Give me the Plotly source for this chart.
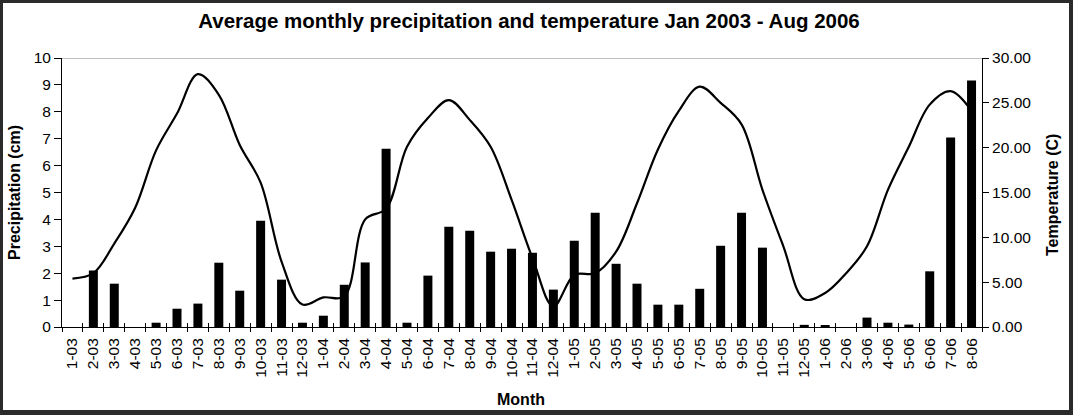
import plotly.graph_objects as go

months = ["1-03", "2-03", "3-03", "4-03", "5-03", "6-03", "7-03", "8-03", "9-03", "10-03", "11-03", "12-03",
          "1-04", "2-04", "3-04", "4-04", "5-04", "6-04", "7-04", "8-04", "9-04", "10-04", "11-04", "12-04",
          "1-05", "2-05", "3-05", "4-05", "5-05", "6-05", "7-05", "8-05", "9-05", "10-05", "11-05", "12-05",
          "1-06", "2-06", "3-06", "4-06", "5-06", "6-06", "7-06", "8-06"]

precip_cm = [0, 2.1, 1.61, 0, 0.16, 0.68, 0.87, 2.39, 1.35, 3.95, 1.76, 0.16,
             0.42, 1.57, 2.4, 6.63, 0.16, 1.91, 3.73, 3.58, 2.80, 2.91, 2.76, 1.39,
             3.21, 4.25, 2.35, 1.61, 0.83, 0.83, 1.42, 3.02, 4.25, 2.95, 0, 0.08,
             0.05, 0, 0.35, 0.16, 0.09, 2.07, 7.04, 9.16]

temp_c = [5.4, 6.0, 9.3, 13.3, 19.7, 23.8, 28.2, 25.9, 20.3, 16.1, 7.3, 2.5,
          3.3, 3.4, 12.0, 13.2, 20.1, 23.3, 25.3, 23.1, 20.1, 14.2, 7.7, 2.3,
          5.8, 6.0, 8.4, 13.8, 19.8, 24.1, 26.8, 25.0, 22.6, 15.3, 9.0, 3.1,
          3.8, 6.0, 9.0, 15.3, 20.1, 24.8, 26.3, 24.1]

FONT = "Arial, Liberation Sans, sans-serif"
W, H = 1073, 415
L, R, T, B = 62, 982, 58, 327
TICK_SIZE = 15.5
AXT_SIZE = 16

def px_x(X):
    return (X - L) / (R - L)

def px_y(Y):
    return (B - Y) / (B - T)

fig = go.Figure()
fig.add_trace(go.Bar(x=months, y=precip_cm, marker=dict(color="black", line=dict(width=0)),
                     name="Precipitation", xaxis="x", yaxis="y"))
fig.add_trace(go.Scatter(x=months, y=temp_c, mode="lines",
                         line=dict(color="black", width=2.2, shape="spline", smoothing=1.0),
                         name="Temperature", xaxis="x2", yaxis="y2"))

fig.update_layout(
    width=W, height=H,
    margin=dict(l=L, r=W - R, t=T, b=H - B),
    paper_bgcolor="#2b2b2b",
    plot_bgcolor="rgba(0,0,0,0)",
    showlegend=False,
    bargap=0.57,
    font=dict(family=FONT, size=TICK_SIZE, color="black"),
    title=dict(text="<b>Average monthly precipitation and temperature Jan 2003 - Aug 2006</b>",
               font=dict(family=FONT, size=20.5, color="black"),
               x=529 / W, xref="container", xanchor="center",
               y=1 - 21 / H, yref="container", yanchor="middle"),
    xaxis=dict(type="category", categoryorder="array", categoryarray=months,
               range=[-0.5, len(months) - 0.5],
               tickson="boundaries", ticks="outside", ticklen=4, tickcolor="black", tickwidth=1,
               tickangle=-90, showline=True, linecolor="black", linewidth=1,
               showgrid=False, zeroline=False, ticklabelstandoff=4,
               tickfont=dict(family=FONT, size=TICK_SIZE, color="black")),
    xaxis2=dict(type="category", categoryorder="array", categoryarray=months,
                range=[-0.5, len(months) - 0.5], overlaying="x", anchor="y",
                tickson="boundaries", ticks="inside", ticklen=4, tickcolor="black", tickwidth=1,
                showticklabels=False, showline=False, showgrid=False, zeroline=False),
    yaxis=dict(range=[0, 10], dtick=1, ticks="outside", ticklen=7, tickcolor="black",
               showline=True, linecolor="black", linewidth=1, showgrid=False, zeroline=False,
               tickfont=dict(family=FONT, size=TICK_SIZE, color="black")),
    yaxis2=dict(range=[0, 30], dtick=5, tickformat=".2f", side="right", overlaying="y",
                anchor="x", ticks="outside", ticklen=6, tickcolor="black",
                showline=True, linecolor="black", linewidth=1, showgrid=False, zeroline=False,
                tickfont=dict(family=FONT, size=TICK_SIZE, color="black")),
    shapes=[
        dict(type="rect", xref="paper", yref="paper", layer="below",
             x0=px_x(3), x1=px_x(1069), y0=px_y(410), y1=px_y(3),
             fillcolor="white", line=dict(width=0)),
        dict(type="line", xref="paper", yref="y", x0=0, x1=1, y0=10, y1=10,
             line=dict(color="#808080", width=1)),
    ],
    annotations=[
        dict(text="<b>Month</b>", xref="paper", yref="paper", x=px_x(521), y=px_y(400),
             showarrow=False, xanchor="center", yanchor="middle",
             font=dict(family=FONT, size=AXT_SIZE, color="black")),
        dict(text="<b>Precipitation (cm)</b>", xref="paper", yref="paper", x=px_x(14), y=px_y(193),
             showarrow=False, xanchor="center", yanchor="middle", textangle=-90,
             font=dict(family=FONT, size=AXT_SIZE, color="black")),
        dict(text="<b>Temperature (C)</b>", xref="paper", yref="paper", x=px_x(1052), y=px_y(195),
             showarrow=False, xanchor="center", yanchor="middle", textangle=-90,
             font=dict(family=FONT, size=AXT_SIZE, color="black")),
    ],
)

fig.write_html("out.html",
               config={"displayModeBar": False},
               post_script="document.body.style.margin='0';document.body.style.padding='0';"
                           "document.body.style.overflow='hidden';")
